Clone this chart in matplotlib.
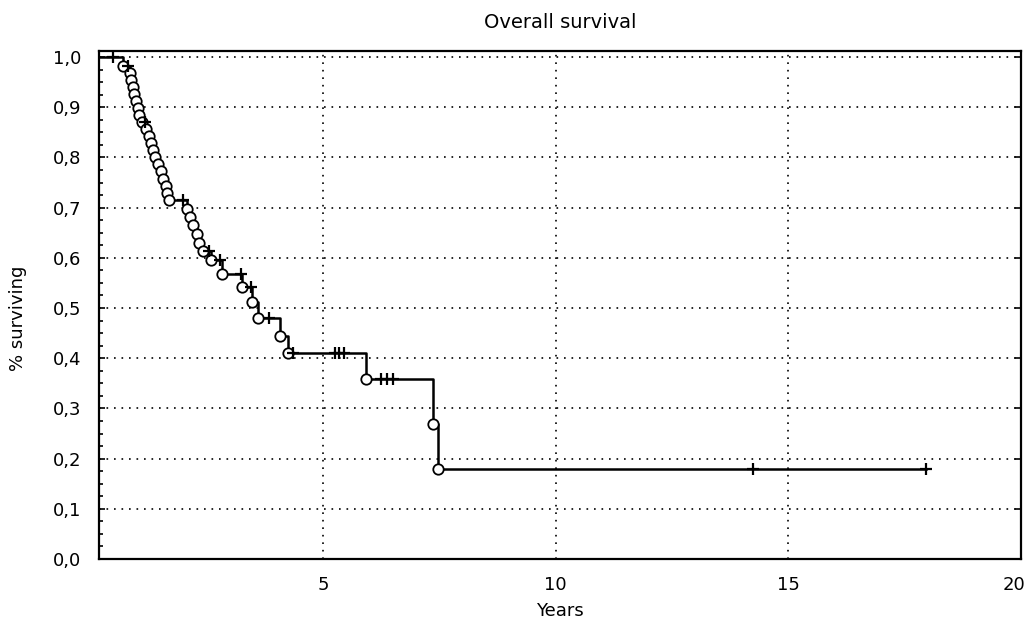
import matplotlib
matplotlib.use("Agg")
import matplotlib.pyplot as plt
import matplotlib.transforms as mtransforms
from matplotlib.ticker import MultipleLocator, FuncFormatter

# Deaths (complete observations): time in years, survival after the event
death_t = [0.70, 0.86, 0.88, 0.91, 0.95, 0.98, 1.02, 1.06, 1.12, 1.20,
           1.26, 1.30, 1.36, 1.40, 1.46, 1.52, 1.56, 1.62, 1.66, 1.70,
           2.08, 2.14, 2.22, 2.30, 2.34, 2.42, 2.60, 2.84, 3.26, 3.47,
           3.60, 4.08, 4.25, 5.93, 7.36, 7.47]
death_s = [0.982, 0.968, 0.954, 0.940, 0.926, 0.912, 0.898, 0.884, 0.870, 0.856,
           0.842, 0.828, 0.814, 0.800, 0.786, 0.772, 0.758, 0.744, 0.730, 0.716,
           0.698, 0.682, 0.666, 0.648, 0.630, 0.614, 0.596, 0.568, 0.541, 0.512,
           0.481, 0.445, 0.410, 0.359, 0.269, 0.180]

# Censored observations
cens_t = [0.49, 0.82, 1.18, 2.00, 2.55, 2.80, 3.24, 3.45, 3.85, 4.35,
          5.25, 5.35, 5.45, 6.25, 6.38, 6.50, 14.25, 17.96]
cens_s = [1.000, 0.982, 0.870, 0.716, 0.614, 0.596, 0.568, 0.541, 0.481, 0.410,
          0.410, 0.410, 0.410, 0.359, 0.359, 0.359, 0.180, 0.180]

title = "Overall survival"
xlabel = "Years"
ylabel = "% surviving"

fig = plt.figure(figsize=(10.29, 6.26), dpi=100)
W, H = 1029, 626
ax = fig.add_axes([99 / W, (H - 559) / H, (1021 - 99) / W, (559 - 51) / H])

font = "DejaVu Sans"

# step line
step_x = [0.0] + death_t + [max(cens_t)]
step_y = [1.0] + death_s + [death_s[-1]]
ax.step(step_x, step_y, where="post", color="black", lw=1.8, zorder=3)

ax.plot(death_t, death_s, linestyle="none", marker="o", markersize=7.5,
        markerfacecolor="white", markeredgecolor="black", markeredgewidth=1.3, zorder=4)
ax.plot(cens_t, cens_s, linestyle="none", marker="+", markersize=9,
        markeredgecolor="black", markeredgewidth=1.6, zorder=5)

ax.set_xlim(0.19, 20)
ax.set_ylim(0, 1.012)

ax.xaxis.set_major_locator(MultipleLocator(5))
ax.yaxis.set_major_locator(MultipleLocator(0.1))
ax.yaxis.set_minor_locator(MultipleLocator(0.025))
ax.yaxis.set_major_formatter(FuncFormatter(lambda v, p: f"{v:.1f}".replace(".", ",")))
ax.xaxis.set_major_formatter(FuncFormatter(lambda v, p: f"{v:.0f}"))

ax.grid(True, which="major", color="black", linestyle=(0, (1, 3.5)), lw=1.2)
ax.tick_params(axis="both", which="both", direction="in", color="black",
               right=True, top=False, labelsize=13)
ax.tick_params(axis="y", which="major", length=4, width=1.2, pad=13)
ax.tick_params(axis="y", which="minor", length=3, width=1.2, right=False)
ax.tick_params(axis="x", which="major", length=0, pad=12)
for lab in ax.get_xticklabels() + ax.get_yticklabels():
    lab.set_fontfamily(font)

for s in ax.spines.values():
    s.set_linewidth(1.6)
    s.set_color("black")

fig.canvas.draw()
# nudge the rightmost x label so it stays within the figure
shift = mtransforms.ScaledTranslation(-7 / 100, 0, fig.dpi_scale_trans)
for lab in ax.get_xticklabels():
    if lab.get_text() == "20":
        lab.set_transform(lab.get_transform() + shift)

fig.text(560 / W, 1 - 22 / H, title, ha="center", va="center", fontsize=14, family=font)
fig.text(560 / W, 1 - 611 / H, xlabel, ha="center", va="center", fontsize=13, family=font)
fig.text(18 / W, 1 - 318 / H, ylabel, ha="center", va="center", rotation=90, fontsize=13, family=font)

fig.savefig("out.png", dpi=100)
